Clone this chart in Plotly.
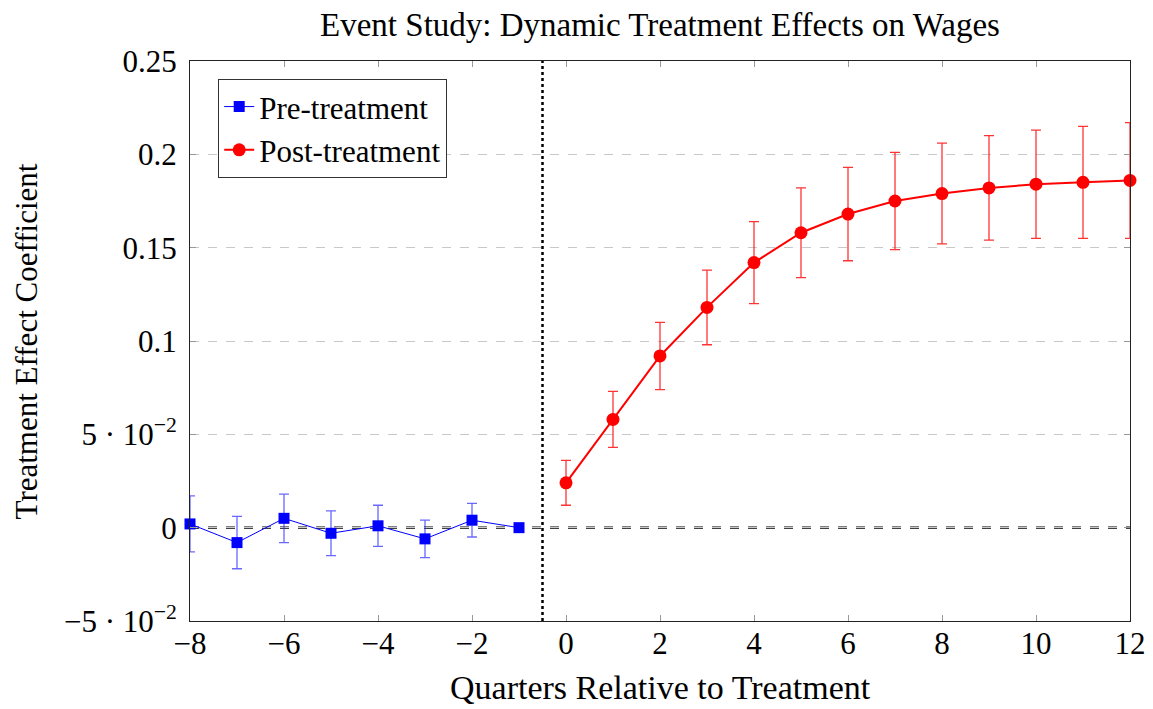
import plotly.graph_objects as go

pre_x = [-8, -7, -6, -5, -4, -3, -2, -1]
pre_y = [0.002, -0.008, 0.005, -0.003, 0.001, -0.006, 0.004, 0.0]
pre_err = [0.015, 0.014, 0.013, 0.012, 0.011, 0.010, 0.009, 0.0]

post_x = [0, 1, 2, 3, 4, 5, 6, 7, 8, 9, 10, 11, 12]
post_y = [0.024, 0.058, 0.092, 0.118, 0.142, 0.158, 0.168, 0.175, 0.179, 0.182, 0.184, 0.185, 0.186]
post_err = [0.012, 0.015, 0.018, 0.020, 0.022, 0.024, 0.025, 0.026, 0.027, 0.028, 0.029, 0.030, 0.031]

y_tickvals = [-0.05, 0, 0.05, 0.1, 0.15, 0.2, 0.25]
y_ticktext = ["−5 · 10<sup>−2</sup>", "0", "5 · 10<sup>−2</sup>", "0.1", "0.15", "0.2", "0.25"]
x_tickvals = [-8, -6, -4, -2, 0, 2, 4, 6, 8, 10, 12]
x_ticktext = ["−8", "−6", "−4", "−2", "0", "2", "4", "6", "8", "10", "12"]

TITLE = "Event Study: Dynamic Treatment Effects on Wages"
X_TITLE = "Quarters Relative to Treatment"
Y_TITLE = "Treatment Effect Coefficient"

FONT = "Liberation Serif"

# The page body has an 8px default margin, so the figure is drawn 8px smaller
# and the margins are reduced accordingly.
W, H = 1145, 701

fig = go.Figure()
fig.add_trace(go.Scatter(
    x=pre_x, y=pre_y, name="Pre-treatment", mode="lines+markers",
    line=dict(color="blue", width=1),
    marker=dict(symbol="square", size=11, color="blue"),
    error_y=dict(type="data", array=pre_err, color="rgba(40,40,255,0.7)", thickness=1.3, width=5),
    cliponaxis=False,
))
fig.add_trace(go.Scatter(
    x=post_x, y=post_y, name="Post-treatment", mode="lines+markers",
    line=dict(color="red", width=2),
    marker=dict(symbol="circle", size=13, color="red"),
    error_y=dict(type="data", array=post_err, color="rgba(255,0,0,0.8)", thickness=1.3, width=5),
    cliponaxis=False,
))

# white strip hides the gray grid line under the black dashed zero line
fig.add_shape(type="line", xref="paper", yref="y", x0=0.001, x1=0.999, y0=0, y1=0,
              line=dict(color="white", width=3.5), layer="between")
fig.add_shape(type="line", xref="paper", yref="y", x0=0, x1=1, y0=0, y1=0,
              line=dict(color="black", width=2.2, dash="dash"), layer="between")
fig.add_shape(type="line", xref="x", yref="paper", x0=-0.5, x1=-0.5, y0=0, y1=1,
              line=dict(color="black", width=2.5, dash="dot"), layer="between")

fig.add_annotation(text=Y_TITLE, xref="paper", yref="paper", x=-0.174, y=0.5,
                   xanchor="center", yanchor="middle", textangle=-90, showarrow=False,
                   font=dict(size=31))
fig.add_annotation(text=X_TITLE, xref="paper", yref="paper", x=0.5, y=-0.1196,
                   xanchor="center", yanchor="middle", showarrow=False,
                   font=dict(size=34))

fig.update_layout(
    width=W, height=H,
    margin=dict(l=182, r=23, t=53, b=88, autoexpand=False),
    paper_bgcolor="white", plot_bgcolor="white",
    font=dict(family=FONT, size=31, color="black"),
    title=dict(text=TITLE, x=(660 - 8) / W, xanchor="center",
               y=1 - (24 - 8) / H, yanchor="middle", font=dict(size=33)),
    legend=dict(x=0.03, y=0.968, xanchor="left", yanchor="top",
                bordercolor="#333", borderwidth=1, bgcolor="white",
                font=dict(size=31), tracegroupgap=0),
    showlegend=True,
)
fig.update_xaxes(
    range=[-8, 12], tickvals=x_tickvals, ticktext=x_ticktext, automargin=False,
    showgrid=False, zeroline=False, showline=True, linecolor="#222", linewidth=1, mirror="ticks",
    ticks="inside", ticklen=6, tickcolor="#999", tickfont=dict(size=31),
    ticklabelstandoff=-5,
)
fig.update_yaxes(
    range=[-0.05, 0.25], tickvals=y_tickvals, ticktext=y_ticktext, automargin=False,
    showgrid=True, gridcolor="#c8c8c8", griddash="dash", gridwidth=1,
    zeroline=False, showline=True, linecolor="#222", linewidth=1, mirror="ticks",
    ticks="inside", ticklen=6, tickcolor="#999", tickfont=dict(size=31),
    ticklabelstandoff=6,
)

fig.write_html("out.html")
